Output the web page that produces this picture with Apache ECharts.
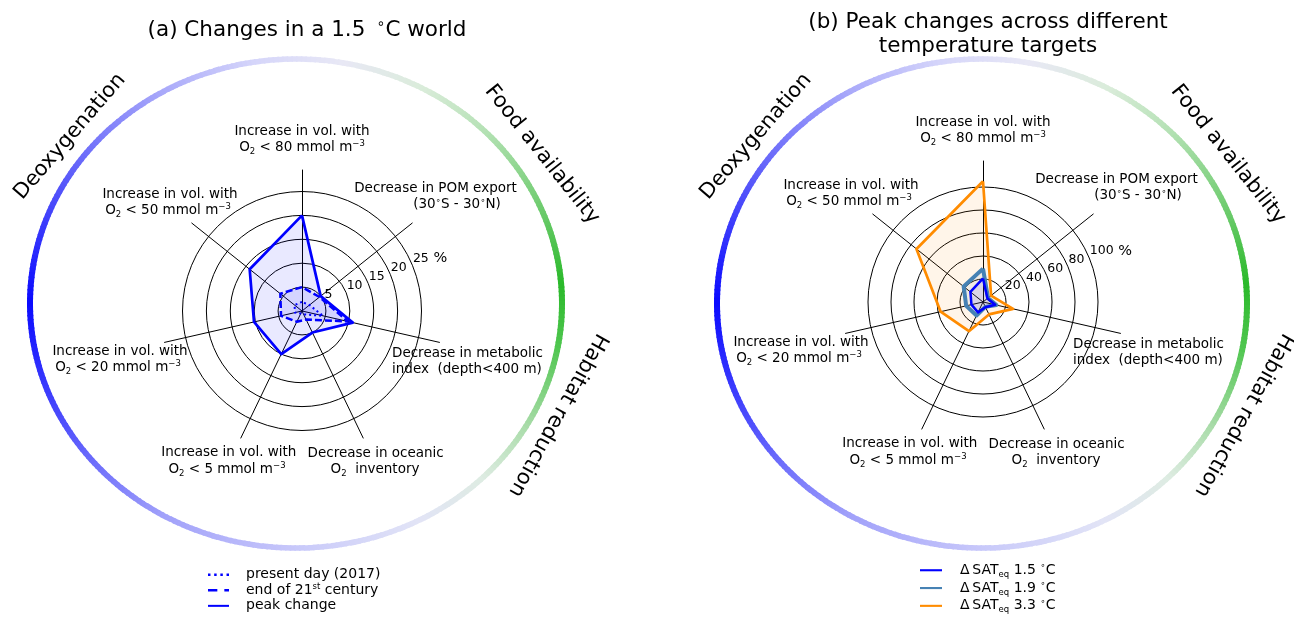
<!DOCTYPE html>
<html><head><meta charset="utf-8">
<script src="https://cdn.jsdelivr.net/npm/echarts@6/dist/echarts.min.js"></script>
<style>html,body{margin:0;padding:0;background:#fff}#c{width:1294px;height:618px}</style>
</head><body><div id="c"></div>
<script>
// ---------------- data ----------------
// indicator order (counter-clockwise from top)
const indicators = ['O2 < 80', 'O2 < 50', 'O2 < 20', 'O2 < 5', 'O2 inventory', 'metabolic index', 'POM export'];
const ticksA = [5, 10, 15, 20, 25];
const ticksB = [20, 40, 60, 80, 100];
const presentDay = [1.9, 2.0, 1.5, 0.6, 0.8, 4.5, 2.0];
const end21st = [5.0, 5.8, 4.5, 2.5, 2.0, 9.8, 4.7];
const peakChange = [20, 14, 10.3, 10, 5, 10.9, 5];
const sat15 = [20.5, 14, 10.3, 10, 5, 10.9, 5];
const sat19 = [29, 21.5, 15, 13, 4.7, 12, 5.6];
const sat33 = [105, 74, 37.8, 28.2, 12, 26.8, 9];
const legendA = ['present day (2017)', 'end of 21st century', 'peak change'];
const legendB = ['1.5', '1.9', '3.3'];
const groupNames = ['Deoxygenation', 'Food availability', 'Habitat reduction'];

// ---------------- layout ----------------
const FONT = 'DejaVu Sans';
const A = {cx: 302, cy: 311, frameR: 141, dataR: 119.5, max: 25, ex: 296, ey: 303.5, rx: 266, ry: 244.5};
const B = {cx: 983, cy: 302, frameR: 141, dataR: 115, max: 100, ex: 982, ey: 303.5, rx: 265, ry: 244.5};

const RICH = {
  t: {fontSize: 13.5, fontFamily: FONT, lineHeight: 17, color: '#000'},
  sub: {fontSize: 8.5, fontFamily: FONT, lineHeight: 9, verticalAlign: 'bottom', color: '#000'},
  sup: {fontSize: 8.5, fontFamily: FONT, lineHeight: 9, verticalAlign: 'top', color: '#000'},
  n: {fontSize: 12.5, fontFamily: FONT, lineHeight: 16, color: '#000'},
  p: {fontSize: 14.5, fontFamily: FONT, lineHeight: 16, color: '#000'}
};

const labelLines = [
  {t: '{t|Increase in vol. with}', dx: 0, dy: -180},
  {t: '{t|O}{sub|2}{t| < 80 mmol m}{sup|−3}', dx: 0, dy: -163.5},
  {t: '{t|Decrease in POM export}', dx: 133.5, dy: -122.5},
  {t: '{t|(30}{sup|∘}{t|S - 30}{sup|∘}{t|N)}', dx: 155, dy: -106.5},
  {t: '{t|Decrease in metabolic}', dx: 90, dy: 42.5, al: 'left'},
  {t: '{t|index  (depth<400 m)}', dx: 90, dy: 58, al: 'left'},
  {t: '{t|Decrease in oceanic}', dx: 73.7, dy: 142.5},
  {t: '{t|O}{sub|2}{t|  inventory}', dx: 73, dy: 158.5},
  {t: '{t|Increase in vol. with}', dx: -73.2, dy: 141.5},
  {t: '{t|O}{sub|2}{t| < 5 mmol m}{sup|−3}', dx: -75, dy: 158.5},
  {t: '{t|Increase in vol. with}', dx: -182, dy: 40},
  {t: '{t|O}{sub|2}{t| < 20 mmol m}{sup|−3}', dx: -184, dy: 56.5},
  {t: '{t|Increase in vol. with}', dx: -132, dy: -117},
  {t: '{t|O}{sub|2}{t| < 50 mmol m}{sup|−3}', dx: -134, dy: -100.5}
];

function textEl(x, y, text, extra) {
  return Object.assign({
    type: 'text', x: x, y: y, silent: true,
    style: {
      text: text, fill: '#000', fontSize: 13.5, fontFamily: FONT,
      align: 'center', verticalAlign: 'middle', textAlign: 'center', textVerticalAlign: 'middle',
      rich: RICH
    }
  }, extra || {});
}

const stops = [
  [-180, [10, 10, 255]], [-150, [80, 80, 252]], [-120, [160, 160, 250]], [-90, [200, 200, 250]],
  [-62, [226, 228, 246]], [-45, [222, 236, 226]], [-30, [170, 220, 170]], [-10, [80, 198, 80]],
  [5, [42, 185, 42]], [20, [100, 200, 100]], [45, [180, 225, 180]], [62, [218, 236, 218]],
  [80, [232, 232, 245]], [100, [212, 212, 250]], [120, [170, 170, 250]], [150, [90, 90, 250]],
  [180, [10, 10, 255]]
];
function ringColor(a) {
  for (let i = 0; i < stops.length - 1; i++) {
    const s0 = stops[i], s1 = stops[i + 1];
    if (a >= s0[0] && a <= s1[0]) {
      const f = (a - s0[0]) / (s1[0] - s0[0]);
      const c = s0[1].map((v, k) => Math.round(v + (s1[1][k] - v) * f));
      return 'rgb(' + c.join(',') + ')';
    }
  }
  return 'rgb(10,10,255)';
}
function ringGroup(L) {
  const children = [];
  const N = 360;
  for (let i = 0; i < N; i++) {
    const a0 = -180 + i * 360 / N, a1 = a0 + 360 / N;
    children.push({
      type: 'arc', silent: true,
      shape: {cx: 0, cy: 0, r: L.rx, startAngle: -a1 * Math.PI / 180, endAngle: -a0 * Math.PI / 180 + 0.006, clockwise: true},
      style: {stroke: ringColor((a0 + a1) / 2), lineWidth: 6, fill: 'none', strokeNoScale: true}
    });
  }
  return {type: 'group', x: L.ex, y: L.ey, scaleY: L.ry / L.rx, silent: true, children: children};
}

function groupLabels(L) {
  const mk = (dx, dy, name, rotDeg) => textEl(L.ex + dx, L.ey + dy, name, {
    rotation: rotDeg * Math.PI / 180,
    style: {text: name, fill: '#000', fontSize: 21, fontFamily: FONT, align: 'center', verticalAlign: 'middle', textAlign: 'center', textVerticalAlign: 'middle'}
  });
  return [
    mk(-226, -167, groupNames[0], 49.3),
    mk(246, -149, groupNames[1], -51.5),
    mk(262, 111.5, groupNames[2], -119)
  ];
}

function axisLabels(L) {
  return labelLines.map(l => {
    const el = textEl(L.cx + l.dx, L.cy + l.dy, l.t);
    if (l.al === 'left') { el.style.align = 'left'; el.style.textAlign = 'left'; }
    return el;
  });
}

function tickLabels(L, ticks) {
  const ang = 22.5 * Math.PI / 180;
  return ticks.map((v, i) => {
    const r = v / L.max * L.dataR;
    const txt = i === ticks.length - 1 ? '{n|' + v + '}{p| %}' : '{n|' + v + '}';
    const el = textEl(L.cx + r * Math.cos(ang) + 0.5, L.cy - r * Math.sin(ang) - 7, txt);
    el.style.align = 'left'; el.style.textAlign = 'left';
    return el;
  });
}

function frameRadar(L) {
  return {
    center: [L.cx, L.cy], radius: L.frameR, startAngle: 90, shape: 'circle',
    indicator: indicators.map(() => ({name: '', min: 0, max: L.max})),
    axisName: {show: false},
    axisLine: {show: true, lineStyle: {color: '#000', width: 1}},
    splitLine: {show: false}, splitArea: {show: false},
    axisTick: {show: false}, axisLabel: {show: false}
  };
}
function dataRadar(L) {
  return {
    center: [L.cx, L.cy], radius: L.dataR, startAngle: 90, shape: 'circle', splitNumber: 5,
    indicator: indicators.map(n => ({name: n, min: 0, max: L.max})),
    axisName: {show: false},
    axisLine: {show: false},
    splitLine: {show: true, lineStyle: {color: '#000', width: 1}},
    splitArea: {show: false},
    axisTick: {show: false}, axisLabel: {show: false}
  };
}

function radarSeries(radarIndex, name, values, color, width, type, fill, z) {
  return {
    type: 'radar', radarIndex: radarIndex, name: name, symbol: 'none', z: z,
    itemStyle: {color: color},
    lineStyle: {color: color, width: width, type: type, cap: 'butt'},
    areaStyle: {color: fill},
    data: [{name: name, value: values}]
  };
}

const dotIcon = 'path://M0,0h2v2h-2zM5,0h2v2h-2zM10,0h2v2h-2zM15,0h2v2h-2z';
const dashIcon = 'path://M0,0h8v2h-8zM14,0h4v2h-4z';
const lineIcon = 'path://M0,0h21v2h-21z';

const option = {
  animation: false,
  backgroundColor: '#fff',
  title: [
    {text: '(a) Changes in a 1.5 {s| ∘}C world', left: A.cx, top: 12, textAlign: 'center',
     textStyle: {fontSize: 21.5, fontFamily: FONT, fontWeight: 'normal', color: '#000', lineHeight: 26,
       rich: {s: {fontSize: 14, fontFamily: FONT, verticalAlign: 'top', lineHeight: 16, color: '#000'}}}},
    {text: '(b) Peak changes across different\ntemperature targets', left: B.cx, top: 5, textAlign: 'center',
     textStyle: {fontSize: 21.5, fontFamily: FONT, fontWeight: 'normal', color: '#000', lineHeight: 24}}
  ],
  legend: [
    {orient: 'vertical', left: 208, top: 567, height: 120, padding: 0, itemWidth: 21, itemHeight: 2.5, itemGap: 0.3,
     selectedMode: false,
     data: [{name: legendA[0], icon: dotIcon}, {name: legendA[1], icon: dashIcon}, {name: legendA[2], icon: lineIcon}],
     formatter: n => n === legendA[1] ? '{g|}{a|end of 21}{sup|st}{a| century}' : '{g|}{a|' + n + '}',
     textStyle: {fontSize: 14, fontFamily: FONT, color: '#000', lineHeight: 15.3,
       rich: {g: {width: 12}, a: {fontSize: 14, fontFamily: FONT, lineHeight: 15.3, color: '#000'},
              sup: {fontSize: 8.5, fontFamily: FONT, lineHeight: 9, verticalAlign: 'top', color: '#000'}}}},
    {orient: 'vertical', left: 920, top: 561.5, height: 120, padding: 0, itemWidth: 22, itemHeight: 3, itemGap: 0.3,
     selectedMode: false,
     data: legendB.map(n => ({name: n, icon: lineIcon})),
     formatter: n => '{g|}{a|\u0394\u2009SAT}{sub|eq}{a| ' + n + ' }{sup|∘}{a|C}',
     textStyle: {fontSize: 14, fontFamily: FONT, color: '#000', lineHeight: 17.5,
       rich: {g: {width: 13}, a: {fontSize: 14, fontFamily: FONT, lineHeight: 17.5, color: '#000'},
              sub: {fontSize: 8.5, fontFamily: FONT, lineHeight: 9, verticalAlign: 'bottom', color: '#000'},
              sup: {fontSize: 8.5, fontFamily: FONT, lineHeight: 9, verticalAlign: 'top', color: '#000'}}}}
  ],
  radar: [frameRadar(A), dataRadar(A), frameRadar(B), dataRadar(B)],
  series: [
    radarSeries(1, legendA[2], peakChange, '#0000ff', 2.7, 'solid', 'rgba(0,0,255,0.12)', 4),
    radarSeries(1, legendA[1], end21st, '#0000ff', 2.5, [7, 3], 'rgba(0,0,255,0.12)', 5),
    radarSeries(1, legendA[0], presentDay, '#0000ff', 2, [2, 3], 'rgba(0,0,255,0.12)', 6),
    radarSeries(3, legendB[2], sat33, '#ff8c00', 2.7, 'solid', 'rgba(255,140,0,0.12)', 4),
    radarSeries(3, legendB[1], sat19, '#4682b4', 4, 'solid', 'rgba(70,130,180,0.12)', 5),
    radarSeries(3, legendB[0], sat15, '#0000ff', 2.5, 'solid', 'rgba(0,0,255,0.12)', 6)
  ],
  graphic: [].concat(
    [ringGroup(A), ringGroup(B)],
    groupLabels(A), groupLabels(B),
    axisLabels(A), axisLabels(B),
    tickLabels(A, ticksA), tickLabels(B, ticksB)
  )
};

const chart = echarts.init(document.getElementById('c'), null, {renderer: 'canvas', width: 1294, height: 618});
chart.setOption(option);
</script>
</body></html>
